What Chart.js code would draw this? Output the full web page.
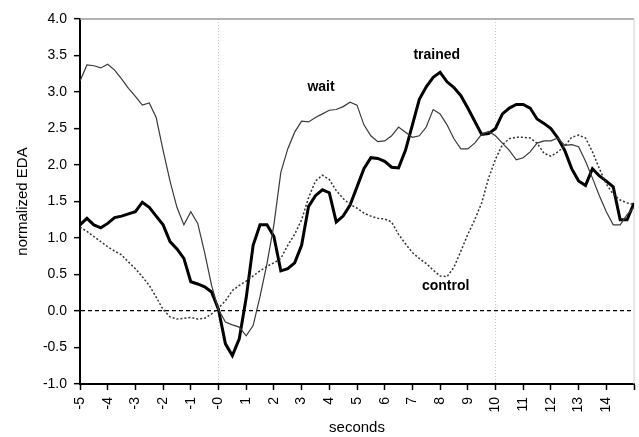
<!DOCTYPE html>
<html>
<head>
<meta charset="utf-8">
<script src="https://cdn.jsdelivr.net/npm/chart.js@4.4.1/dist/chart.umd.min.js"></script>
<style>
  html, body { margin: 0; padding: 0; background: #fff; }
  canvas { display: block; }
</style>
</head>
<body>
<canvas id="edaChart" width="639" height="437"></canvas>
<script>
// time axis, 0.25 s steps from -5 to 15
var seconds = [];
for (var i = 0; i <= 80; i++) seconds.push(-5 + i * 0.25);

var trained = [
  1.18, 1.27, 1.18, 1.14, 1.20, 1.28, 1.30, 1.33, 1.36, 1.49,
  1.42, 1.30, 1.18, 0.95, 0.85, 0.72, 0.40, 0.37, 0.33, 0.26,
  0.02, -0.45, -0.61, -0.38, 0.18, 0.90, 1.18, 1.18, 1.02, 0.55,
  0.58, 0.66, 0.90, 1.43, 1.58, 1.66, 1.62, 1.22, 1.30, 1.45,
  1.70, 1.95, 2.10, 2.09, 2.05, 1.97, 1.96, 2.20, 2.55, 2.90,
  3.07, 3.20, 3.27, 3.14, 3.06, 2.95, 2.78, 2.60, 2.42, 2.43,
  2.50, 2.70, 2.78, 2.83, 2.83, 2.78, 2.63, 2.57, 2.50, 2.37,
  2.20, 1.95, 1.78, 1.72, 1.95, 1.85, 1.78, 1.70, 1.25, 1.25,
  1.48
];

var wait = [
  3.15, 3.37, 3.36, 3.33, 3.38, 3.30, 3.18, 3.05, 2.94, 2.82,
  2.85, 2.65, 2.20, 1.78, 1.42, 1.18, 1.36, 1.20, 0.80, 0.35,
  0.02, -0.15, -0.19, -0.22, -0.34, -0.20, 0.20, 0.65, 1.18, 1.90,
  2.22, 2.45, 2.60, 2.59, 2.65, 2.70, 2.75, 2.76, 2.80, 2.86,
  2.82, 2.55, 2.40, 2.32, 2.33, 2.40, 2.52, 2.45, 2.38, 2.40,
  2.52, 2.76, 2.70, 2.55, 2.36, 2.22, 2.22, 2.30, 2.42, 2.46,
  2.40, 2.30, 2.20, 2.07, 2.10, 2.18, 2.30, 2.33, 2.33, 2.37,
  2.27, 2.28, 2.25, 2.05, 1.82, 1.58, 1.36, 1.18, 1.18, 1.32,
  1.42
];

var control = [
  1.15, 1.09, 1.02, 0.95, 0.88, 0.82, 0.77, 0.67, 0.58, 0.47,
  0.35, 0.19, 0.02, -0.08, -0.11, -0.10, -0.09, -0.11, -0.10, -0.04,
  0.04, 0.14, 0.28, 0.35, 0.41, 0.48, 0.55, 0.61, 0.66, 0.72,
  0.90, 1.05, 1.25, 1.55, 1.78, 1.86, 1.80, 1.65, 1.54, 1.46,
  1.41, 1.34, 1.30, 1.27, 1.26, 1.22, 1.05, 0.92, 0.80, 0.72,
  0.65, 0.56, 0.48, 0.47, 0.60, 0.82, 1.05, 1.25, 1.48, 1.82,
  2.08, 2.28, 2.36, 2.38, 2.38, 2.37, 2.30, 2.16, 2.12, 2.18,
  2.26, 2.38, 2.41, 2.37, 2.18, 1.95, 1.74, 1.60, 1.52, 1.48,
  1.46
];

// in-plot series names, [x, y] in data units
var seriesLabels = [
  { text: 'trained', at: [7.88, 3.51] },
  { text: 'wait', at: [3.7, 3.07] },
  { text: 'control', at: [8.2, 0.34] }
];

function pairs(vals) {
  return vals.map(function(v, i) { return { x: seconds[i], y: v }; });
}

var FONT = 'Liberation Sans, Arial, sans-serif';

var frameAndLabels = {
  id: 'frameAndLabels',
  beforeDatasetsDraw: function(chart) {
    var ctx = chart.ctx, a = chart.chartArea;
    ctx.save();
    ctx.strokeStyle = '#9a9a9a';
    ctx.lineWidth = 1.5;
    ctx.beginPath();
    ctx.moveTo(a.left, a.top);
    ctx.lineTo(a.right, a.top);
    ctx.stroke();
    ctx.strokeStyle = '#d0d0d0';
    ctx.lineWidth = 1;
    ctx.beginPath();
    ctx.moveTo(a.right, a.top);
    ctx.lineTo(a.right, a.bottom);
    ctx.stroke();
    ctx.restore();
  },
  afterDatasetsDraw: function(chart) {
    var ctx = chart.ctx;
    var xs = chart.scales.x, ys = chart.scales.y;
    ctx.save();
    ctx.font = 'bold 14px ' + FONT;
    ctx.fillStyle = '#000';
    ctx.textAlign = 'center';
    ctx.textBaseline = 'middle';
    seriesLabels.forEach(function(l) {
      ctx.fillText(l.text, xs.getPixelForValue(l.at[0]), ys.getPixelForValue(l.at[1]));
    });
    ctx.restore();
  }
};

new Chart(document.getElementById('edaChart'), {
  type: 'line',
  data: {
    datasets: [
      {
        label: 'control',
        data: pairs(control),
        borderColor: '#333',
        borderWidth: 1.5,
        borderDash: [2, 2],
        pointRadius: 0,
        tension: 0,
        fill: false
      },
      {
        label: 'wait',
        data: pairs(wait),
        borderColor: '#3a3a3a',
        borderWidth: 1.2,
        pointRadius: 0,
        tension: 0,
        fill: false
      },
      {
        label: 'trained',
        data: pairs(trained),
        borderColor: '#000',
        borderWidth: 3,
        pointRadius: 0,
        tension: 0,
        fill: false
      }
    ]
  },
  options: {
    responsive: false,
    animation: false,
    layout: { padding: { top: 19, right: 5, left: 0, bottom: 0 } },
    plugins: {
      legend: { display: false },
      tooltip: { enabled: false }
    },
    scales: {
      x: {
        type: 'linear',
        min: -5,
        max: 15,
        afterFit: function(s) {
          s.height = 53;
          s.paddingLeft = 0;
          s.paddingRight = 0;
        },
        ticks: {
          stepSize: 1,
          autoSkip: false,
          minRotation: 90,
          maxRotation: 90,
          padding: 7,
          color: '#000',
          font: { family: FONT, size: 14 },
          callback: function(v) {
            if (v === 0) return '-0';
            if (v === 15) return '';
            return String(v);
          }
        },
        grid: {
          color: function(c) {
            var v = c.tick && c.tick.value;
            return (v === 0 || v === 10) ? '#c8c8c8' : 'rgba(0,0,0,0)';
          },
          lineWidth: 1,
          tickLength: 6,
          tickColor: '#000',
          tickWidth: 1.5
        },
        border: { color: '#000', width: 2, dash: [1, 2] },
        title: {
          display: true,
          text: 'seconds',
          color: '#000',
          font: { family: FONT, size: 15 },
          padding: { top: -4, bottom: 0 }
        }
      },
      y: {
        min: -1,
        max: 4,
        afterFit: function(s) { s.width = 80; },
        ticks: {
          stepSize: 0.5,
          padding: 7,
          color: '#000',
          font: { family: FONT, size: 14 },
          callback: function(v) { return v.toFixed(1); }
        },
        grid: {
          color: function(c) {
            return (c.tick && c.tick.value === 0) ? '#000' : 'rgba(0,0,0,0)';
          },
          lineWidth: 1.3,
          tickLength: 6,
          tickColor: '#000',
          tickWidth: 1.5
        },
        border: { color: '#000', width: 2, dash: [4, 3] },
        title: {
          display: true,
          text: 'normalized EDA',
          color: '#000',
          font: { family: FONT, size: 15 },
          padding: { top: 14, bottom: 0 }
        }
      }
    }
  },
  plugins: [frameAndLabels]
});
</script>
</body>
</html>
